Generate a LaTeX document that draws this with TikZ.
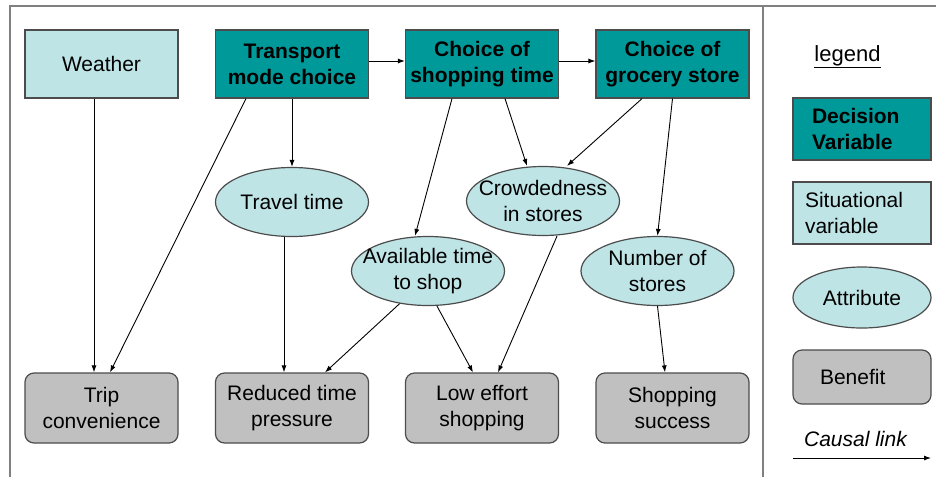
\documentclass[tikz,border=0pt]{standalone}
\usepackage{fontspec}
\setmainfont{Liberation Sans}
\usetikzlibrary{arrows.meta,shapes.geometric}
\definecolor{tealA}{RGB}{0,153,153}
\definecolor{lightA}{RGB}{190,228,230}
\definecolor{grayA}{RGB}{192,192,192}
\definecolor{frameA}{RGB}{128,128,128}
\begin{document}
\begin{tikzpicture}[x=1pt,y=-1pt,
  base/.style={draw=black!70, line width=1.2pt, inner sep=0pt, align=center, font=\fontsize{21}{26}\selectfont},
  decision/.style={base, fill=tealA, minimum width=153pt, minimum height=68pt, font=\fontsize{21}{26}\selectfont\bfseries},
  situ/.style={base, fill=lightA, minimum width=153pt, minimum height=68pt},
  attr/.style={base, ellipse, fill=lightA, minimum width=153pt, minimum height=69pt},
  benefit/.style={base, fill=grayA, rounded corners=9pt, minimum width=153pt, minimum height=70pt},
  etext/.style={align=center, font=\fontsize{21}{26}\selectfont},
  link/.style={draw=black, line width=0.9pt, -{Latex[length=7pt,width=5pt]}},
  frameline/.style={draw=frameA, line width=1.5pt},
]
\useasboundingbox[fill=white] (0,0) rectangle (936,477);
% frame
\draw[frameline] (10,477) -- (10,6) -- (936,6);
\draw[frameline] (763,6) -- (763,477);

% top row
\node[situ] (weather) at (101.5,64) {Weather};
\node[decision] (transport) at (292,64) {Transport\\mode choice};
\node[decision] (shoptime) at (482,64) {Choice of\\shopping time};
\node[decision] (grocery) at (672.5,64) {Choice of\\grocery store};

% attributes
\node[attr, label={[etext]center:Travel time}] (travel) at (292,202) {};
\node[attr, label={[etext]center:Crowdedness\\in stores}] (crowd) at (543,201) {};
\node[attr, label={[etext]center:Available time\\to shop}] (avail) at (428,271) {};
\node[attr, label={[etext]center:Number of\\stores}] (nstores) at (657.5,271) {};

% benefits
\node[benefit] (trip) at (101.5,408) {Trip\\convenience};
\node[benefit] (reduced) at (292,408) {Reduced time\\pressure};
\node[benefit] (loweffort) at (482,408) {Low effort\\shopping};
\node[benefit] (success) at (672.5,408) {Shopping\\success};

% legend
\node[font=\fontsize{22}{26}\selectfont] (legendtitle) at (847.5,57) {\underline{legend}};
\node[decision, minimum width=138pt, minimum height=62pt, text width=100pt, inner xsep=19pt, align=left] (ldec) at (862,129) {Decision\\Variable};
\node[situ, minimum width=138pt, minimum height=62pt, text width=114pt, inner xsep=12pt, align=left] (lsit) at (862,213) {Situational\\variable};
\node[attr, minimum width=138pt, minimum height=61pt, label={[etext]center:Attribute}] (lattr) at (862,297.5) {};
\node[benefit, minimum width=138pt, minimum height=54pt, text width=84pt, inner xsep=27pt, align=left] (lben) at (862,377) {Benefit};
\node[font=\fontsize{21}{26}\selectfont\itshape] (lcausal) at (855.5,439) {Causal link};
\coordinate (la) at (793,458);
\coordinate (lb) at (931,458);
\draw[link] (la) -- (lb);

% connectors
\draw[link] ([xshift=-7.5pt]weather.south) -- ([xshift=-7.5pt]trip.north);
\draw[link] ([xshift=-46pt]transport.south) -- ([xshift=8.5pt]trip.north);
\draw[link] (transport.south) -- (travel.north);
\draw[link] ([yshift=3pt]transport.east) -- ([yshift=3pt]shoptime.west);
\draw[link] ([yshift=3pt]shoptime.east) -- ([yshift=3pt]grocery.west);
\draw[link] ([xshift=-30pt]shoptime.south) -- ([xshift=-13pt]avail.north);
\draw[link] ([xshift=23pt]shoptime.south) -- ([xshift=-16pt]crowd.north);
\draw[link] ([xshift=-30.5pt]grocery.south) -- ([xshift=24pt]crowd.north);
\draw[link] (grocery.south) -- (nstores.north);
\draw[link] ([xshift=-8pt]travel.south) -- ([xshift=-8pt]reduced.north);
\draw[link] (avail.-131) -- ([xshift=33pt]reduced.north);
\draw[link] ([xshift=9pt]avail.south) -- ([xshift=-9pt]loweffort.north);
\draw[link] ([xshift=14pt]crowd.south) -- ([xshift=16pt]loweffort.north);
\draw[link] (nstores.south) -- ([xshift=-7.5pt]success.north);
\end{tikzpicture}
\end{document}
